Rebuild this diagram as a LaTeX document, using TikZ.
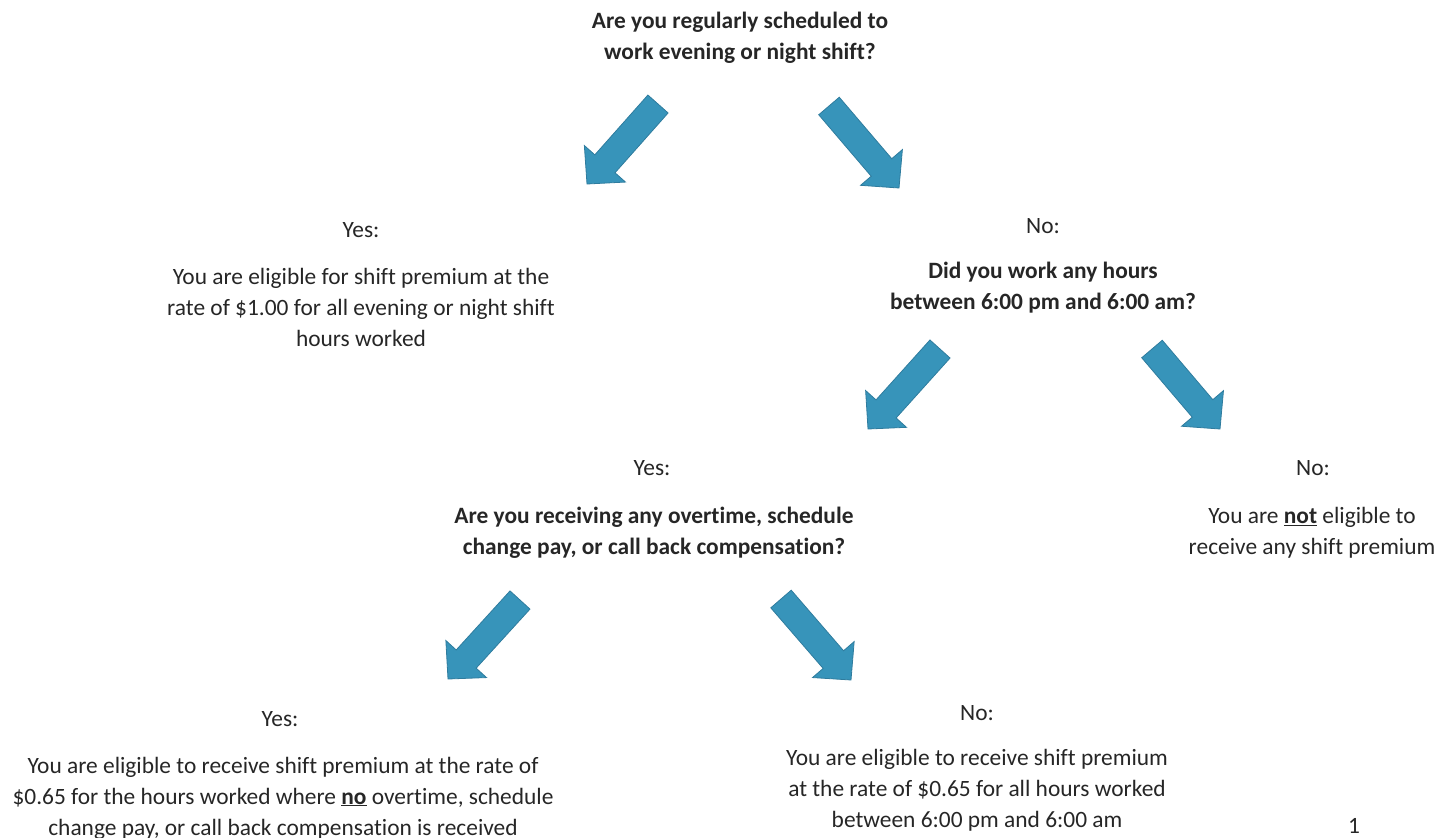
\documentclass[tikz,border=0pt]{standalone}
\usepackage{fontspec}
\setmainfont{Carlito}[Ligatures=NoCommon]
\usetikzlibrary{calc}
\definecolor{arrowfill}{HTML}{3794BA}
\definecolor{arrowline}{HTML}{2F7C9E}
\tikzset{
  txt/.style={align=center, inner sep=0pt, font=\fontsize{23.4}{31}\selectfont, text=black!85},
  bold/.style={txt, font=\fontsize{23.4}{31}\selectfont\bfseries},
  blockarrow/.style={fill=arrowfill, draw=arrowline, line width=0.8pt, line join=miter}
}
\newcommand\blockarr[2]{%
  \path[blockarrow]
    ($(#1)!13.5pt!90:(#2)$) --
    ($($(#2)!27pt!(#1)$)!13.5pt!-90:(#1)$) --
    ($($(#2)!27pt!(#1)$)!27.5pt!-90:(#1)$) --
    (#2) --
    ($($(#2)!27pt!(#1)$)!27.5pt!90:(#1)$) --
    ($($(#2)!27pt!(#1)$)!13.5pt!90:(#1)$) --
    ($(#1)!13.5pt!-90:(#2)$) -- cycle;}
\begin{document}
\begin{tikzpicture}[x=1pt,y=-1pt]
\useasboundingbox (0,0) rectangle (1438,838);
% questions / answers
\node[bold] (q1) at (740,38) {Are you regularly scheduled to\\work evening or night shift?};
\node[txt] (y1) at (361,230) {Yes:};
\node[txt] (y1t) at (361,307) {You are eligible for shift premium at the\\rate of \$1.00 for all evening or night shift\\hours worked};
\node[txt] (n1) at (1043,226) {No:};
\node[bold] (q2) at (1043,288) {Did you work any hours\\between 6:00 pm and 6:00 am?};
\node[txt] (y2) at (652,468) {Yes:};
\node[bold] (q3) at (654,533) {Are you receiving any overtime, schedule\\change pay, or call back compensation?};
\node[txt] (n2) at (1313,468) {No:};
\node[txt] (n2t) at (1312,533) {You are \underline{\textbf{not}} eligible to\\receive any shift premium};
\node[txt] (y3) at (280,719) {Yes:};
\node[txt] (y3t) at (283,798) {You are eligible to receive shift premium at the rate of\\\$0.65 for the hours worked where \underline{\textbf{no}} overtime, schedule\\change pay, or call back compensation is received};
\node[txt] (n3) at (977,713) {No:};
\node[txt] (n3t) at (977,790) {You are eligible to receive shift premium\\at the rate of \$0.65 for all hours worked\\between 6:00 pm and 6:00 am};
\node[txt] (pg) at (1354,826) {1};
% arrow end points
\coordinate (a1t) at (658,104); \coordinate (a1h) at (587,184);
\coordinate (a2t) at (829,106); \coordinate (a2h) at (899,188);
\coordinate (a3t) at (940,349); \coordinate (a3h) at (868,429);
\coordinate (a4t) at (1152,349); \coordinate (a4h) at (1220,429);
\coordinate (a5t) at (520,600); \coordinate (a5h) at (448,679);
\coordinate (a6t) at (781,599); \coordinate (a6h) at (851,680);
\blockarr{a1t}{a1h}
\blockarr{a2t}{a2h}
\blockarr{a3t}{a3h}
\blockarr{a4t}{a4h}
\blockarr{a5t}{a5h}
\blockarr{a6t}{a6h}
\end{tikzpicture}
\end{document}
